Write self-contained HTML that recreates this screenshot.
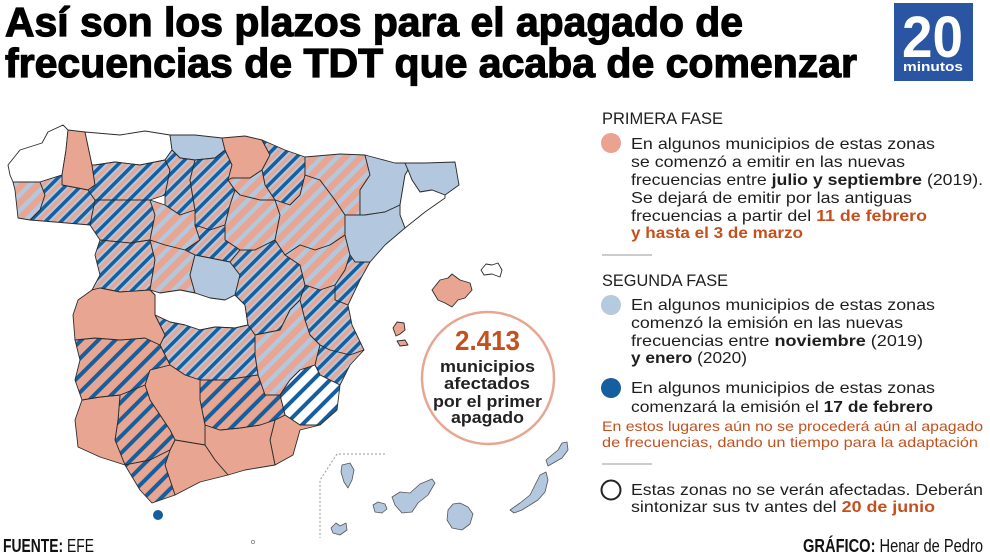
<!DOCTYPE html>
<html>
<head>
<meta charset="utf-8">
<style>
html,body{margin:0;padding:0;background:#fff;}
body{width:990px;height:556px;overflow:hidden;}
svg{display:block;}
.t{font-family:"Liberation Sans",sans-serif;}
</style>
</head>
<body>
<svg width="990" height="556" viewBox="0 0 990 556" xmlns="http://www.w3.org/2000/svg">
<defs>
  <pattern id="pT" patternUnits="userSpaceOnUse" width="11" height="11" patternTransform="rotate(45)">
    <rect x="0" y="0" width="11" height="11" fill="#e8a692"/>
    <rect x="0" y="0" width="3.6" height="11" fill="#165f9e"/>
    <rect x="3.6" y="0" width="2" height="11" fill="#b3c7de"/>
    <rect x="9" y="0" width="2" height="11" fill="#b3c7de"/>
  </pattern>
  <pattern id="pSL" patternUnits="userSpaceOnUse" width="11" height="11" patternTransform="rotate(45)">
    <rect x="0" y="0" width="11" height="11" fill="#e8a692"/>
    <rect x="6.5" y="0" width="4.5" height="11" fill="#b3c7de"/>
  </pattern>
  <pattern id="pSD" patternUnits="userSpaceOnUse" width="12" height="12" patternTransform="rotate(45)">
    <rect x="0" y="0" width="12" height="12" fill="#e8a692"/>
    <rect x="8" y="0" width="4" height="12" fill="#165f9e"/>
  </pattern>
  <pattern id="pWD" patternUnits="userSpaceOnUse" width="12" height="12" patternTransform="rotate(45)">
    <rect x="0" y="0" width="12" height="12" fill="#ffffff"/>
    <rect x="8" y="0" width="4" height="12" fill="#165f9e"/>
  </pattern>
</defs>

<!-- Title -->
<text class="t" x="5" y="36" font-size="41" font-weight="bold" fill="#000" stroke="#000" stroke-width="1.2" textLength="738" lengthAdjust="spacingAndGlyphs">Así son los plazos para el apagado de</text>
<text class="t" x="5" y="77" font-size="41" font-weight="bold" fill="#000" stroke="#000" stroke-width="1.2" textLength="852" lengthAdjust="spacingAndGlyphs">frecuencias de TDT que acaba de comenzar</text>

<!-- Logo -->
<rect x="894" y="3" width="79" height="78" fill="#2a55a2"/>
<text class="t" x="902" y="57" font-size="58" font-weight="bold" fill="#fff" textLength="61" lengthAdjust="spacingAndGlyphs">20</text>
<text class="t" x="903" y="71" font-size="13" font-weight="bold" fill="#fff" textLength="60" lengthAdjust="spacingAndGlyphs">minutos</text>

<!-- Map -->
<g stroke="#2b2b2b" stroke-width="0.9" stroke-linejoin="round">
  <polygon fill="#ffffff" points="8,165 20,150 42,143 48,132 63,125 68,130 66,150 62,175 40,182 13,182 10,175"/>
  <polygon fill="#e8a692" points="68,130 85,132 92,165 95,185 88,190 62,185 62,175 66,150"/>
  <polygon fill="url(#pSL)" points="13,182 40,182 45,195 40,210 30,220 18,218 15,190"/>
  <polygon fill="url(#pT)" points="40,182 62,175 62,185 88,190 95,200 90,225 55,222 30,220 40,210 45,195"/>
  <polygon fill="#ffffff" points="85,132 120,135 145,131 170,135 172,150 165,160 140,165 115,162 95,165 92,165"/>
  <polygon fill="#b3c7de" points="170,135 195,135 222,138 225,150 215,158 195,160 180,158 172,150"/>
  <polygon fill="url(#pT)" points="92,165 95,165 115,162 140,165 165,160 170,170 165,195 150,200 120,200 95,200 88,190 95,185"/>
  <polygon fill="url(#pT)" points="165,160 172,150 180,158 195,160 190,180 195,210 180,215 165,205 165,195 170,170"/>
  <polygon fill="url(#pT)" points="195,160 215,158 225,150 232,165 228,180 235,190 230,205 225,225 210,230 195,225 195,210 190,180"/>
  <polygon fill="#e8a692" points="222,138 245,136 262,140 270,155 262,170 250,178 232,178 228,180 232,165 225,150"/>
  <polygon fill="url(#pT)" points="262,140 285,150 305,157 305,175 300,195 290,205 275,200 265,185 262,170 270,155"/>
  <polygon fill="url(#pSL)" points="232,178 250,178 262,170 265,185 275,200 260,200 240,195 235,190 228,180"/>
  <polygon fill="url(#pT)" points="95,200 120,200 150,200 155,215 150,240 130,243 100,240 90,225"/>
  <polygon fill="url(#pSL)" points="150,200 165,205 180,215 195,210 195,225 200,240 185,250 165,245 150,240 155,215"/>
  <polygon fill="url(#pSL)" points="230,205 235,190 240,195 260,200 275,200 280,215 275,240 255,250 240,250 225,240 225,225"/>
  <polygon fill="url(#pT)" points="195,225 210,230 225,225 225,240 240,250 230,262 210,258 195,255 185,250 200,240"/>
  <polygon fill="url(#pT)" points="100,240 130,243 150,240 155,260 150,290 120,292 100,288 92,290 100,275 95,255"/>
  <polygon fill="url(#pSL)" points="150,240 165,245 185,250 195,255 190,275 195,293 180,290 160,293 150,290 155,260"/>
  <polygon fill="#b3c7de" points="195,255 210,258 230,262 240,275 235,295 225,300 210,298 195,293 190,275"/>
  <polygon fill="#ffffff" points="150,290 160,293 180,290 195,293 210,298 225,300 235,295 245,305 248,325 235,328 215,327 200,330 185,325 170,322 155,315 155,295"/>
  <polygon fill="url(#pT)" points="240,250 255,250 275,240 285,255 300,265 305,285 300,300 290,310 280,330 255,335 248,325 245,305 235,295 240,275 230,262"/>
  <polygon fill="url(#pSL)" points="290,205 300,195 305,175 320,180 335,200 345,215 345,235 330,245 315,250 300,245 285,255 275,240 280,215 275,200"/>
  <polygon fill="url(#pSL)" points="305,157 340,154 365,155 370,175 360,190 360,215 345,215 335,200 320,180 305,175"/>
  <polygon fill="url(#pSL)" points="285,255 300,245 315,250 330,245 345,235 350,255 345,270 335,285 320,290 305,285 300,265"/>
  <polygon fill="#b3c7de" points="365,155 395,163 405,163 408,170 405,175 400,205 385,212 365,215 360,215 360,190 370,175"/>
  <polygon fill="#b3c7de" points="405,163 425,163 455,162 459,185 445,195 432,190 420,192 412,180 408,170"/>
  <polygon fill="#ffffff" points="408,170 412,180 420,192 432,190 445,195 445,198 425,212 405,228 400,215 400,205 405,175"/>
  <polygon fill="#b3c7de" points="365,215 385,212 400,205 400,215 405,228 385,245 370,262 355,262 350,255 345,235 345,215 360,215"/>
  <polygon fill="url(#pT)" points="350,255 355,262 370,262 360,280 348,305 335,300 335,285 345,270"/>
  <polygon fill="url(#pT)" points="335,285 335,300 348,305 352,325 364,350 350,355 330,350 320,345 310,335 305,320 300,300 305,285 320,290"/>
  <polygon fill="url(#pSL)" points="255,335 280,330 290,310 300,300 305,320 310,335 320,345 315,365 300,370 290,380 280,395 265,395 258,375 255,355"/>
  <polygon fill="url(#pT)" points="320,345 330,350 350,355 364,350 350,365 340,385 330,380 320,375 315,365"/>
  <polygon fill="url(#pWD)" points="300,370 315,365 320,375 330,380 340,385 337,410 320,425 300,425 285,415 280,395 290,380"/>
  <polygon fill="#e8a692" points="275,420 285,415 300,425 320,425 300,430 293,455 275,465 270,440"/>
  <polygon fill="#e8a692" points="205,425 220,430 240,428 260,425 275,420 270,440 275,465 245,470 228,475 215,460 205,445"/>
  <polygon fill="url(#pT)" points="155,315 170,322 185,325 200,330 215,327 235,328 248,325 255,335 255,355 258,375 225,380 200,380 185,375 170,365 160,345 165,335"/>
  <polygon fill="url(#pSD)" points="200,380 225,380 258,375 265,395 280,395 285,415 275,420 260,425 240,428 220,430 205,425 200,400"/>
  <polygon fill="#e8a692" points="170,365 185,375 200,380 200,400 205,425 205,445 175,440 170,430 160,415 150,400 145,385 150,370"/>
  <polygon fill="#e8a692" points="175,440 205,445 215,460 228,475 200,482 175,495 170,480 165,465 170,450"/>
  <polygon fill="url(#pSD)" points="120,395 145,385 150,400 160,415 170,430 175,440 170,450 150,460 125,465 115,440 118,420"/>
  <polygon fill="url(#pSD)" points="125,465 150,460 170,450 165,465 170,480 175,495 152,503 140,490"/>
  <polygon fill="#e8a692" points="78,447 75,420 82,400 100,397 120,395 118,420 115,440 125,465 100,457"/>
  <polygon fill="url(#pSD)" points="75,380 80,360 75,340 95,338 120,340 145,338 160,345 170,365 150,370 145,385 120,395 100,397 82,400"/>
  <polygon fill="#e8a692" points="73,315 78,300 92,290 100,288 120,292 150,290 155,295 155,315 165,335 160,345 145,338 120,340 95,338 75,340"/>
  <!-- Balearics -->
  <polygon fill="#e8a692" points="432,290 440,280 448,278 452,274 460,280 470,283 472,290 465,298 458,300 452,307 445,303 438,300"/>
  <polygon fill="#ffffff" points="481,270 486,264 492,265 498,263 502,270 500,277 492,274 484,275"/>
  <polygon fill="#e8a692" points="393,328 397,322 404,323 405,330 400,334 396,336"/>
  <polygon fill="#e8a692" points="397,341 405,340 408,345 400,346"/>
  <!-- Canaries -->
  <g stroke="#555" stroke-width="0.8" fill="#b3c7de">
    <polygon points="342,465 350,463 354,470 352,480 348,488 344,482 341,472"/>
    <polygon points="331,528 336,523 340,526 346,523 347,530 340,535 333,533"/>
    <polygon points="373,505 378,502 385,504 387,509 382,513 375,512"/>
    <polygon points="392,497 400,492 410,493 420,484 432,479 435,483 428,495 418,503 412,512 402,513 395,505"/>
    <polygon points="448,510 453,504 460,503 468,507 473,514 470,524 462,530 452,528 447,520"/>
    <polygon points="510,510 520,503 530,495 535,485 540,475 546,472 548,480 545,492 538,500 530,505 522,510 514,513"/>
    <polygon points="546,460 552,455 558,450 562,443 567,442 568,450 562,458 555,462 548,466"/>
  </g>
</g>
<polyline points="385,454 337,454 320,480 320,538" fill="none" stroke="#999" stroke-width="1" stroke-dasharray="2,2"/>
<circle cx="158" cy="515" r="5" fill="#165f9e"/>
<circle cx="253" cy="542" r="1.6" fill="none" stroke="#888" stroke-width="0.8"/>

<!-- Big circle -->
<circle cx="488" cy="378" r="66" fill="#fff" stroke="#e8a692" stroke-width="2.5"/>
<text class="t" x="455" y="350" font-size="28" font-weight="bold" fill="#c5501e" textLength="65" lengthAdjust="spacingAndGlyphs">2.413</text>
<g class="t" font-size="17" font-weight="bold" fill="#222">
  <text x="440" y="372" textLength="95" lengthAdjust="spacingAndGlyphs">municipios</text>
  <text x="444" y="389" textLength="86" lengthAdjust="spacingAndGlyphs">afectados</text>
  <text x="433" y="407" textLength="109" lengthAdjust="spacingAndGlyphs">por el primer</text>
  <text x="451" y="423" textLength="73" lengthAdjust="spacingAndGlyphs">apagado</text>
</g>

<!-- Legend -->
<g class="t" fill="#1e1e1e">
  <text x="602" y="124" font-size="17" textLength="121" lengthAdjust="spacingAndGlyphs">PRIMERA FASE</text>
  <circle cx="611" cy="143" r="10" fill="#e9a390"/>
  <g font-size="16">
    <text x="631" y="149" textLength="304" lengthAdjust="spacingAndGlyphs">En algunos municipios de estas zonas</text>
    <text x="631" y="167" textLength="274" lengthAdjust="spacingAndGlyphs">se comenzó a emitir en las nuevas</text>
    <text x="631" y="185" textLength="352" lengthAdjust="spacingAndGlyphs">frecuencias entre <tspan font-weight="bold">julio y septiembre</tspan> (2019).</text>
    <text x="631" y="203" textLength="281" lengthAdjust="spacingAndGlyphs">Se dejará de emitir por las antiguas</text>
    <text x="631" y="221" textLength="296" lengthAdjust="spacingAndGlyphs">frecuencias a partir del <tspan font-weight="bold" fill="#c5501e">11 de febrero</tspan></text>
    <text x="631" y="238" textLength="172" lengthAdjust="spacingAndGlyphs" font-weight="bold" fill="#c5501e">y hasta el 3 de marzo</text>
  </g>
  <line x1="602" y1="255" x2="652" y2="255" stroke="#9a9a9a" stroke-width="1"/>

  <text x="602" y="286" font-size="17" textLength="126" lengthAdjust="spacingAndGlyphs">SEGUNDA FASE</text>
  <circle cx="611" cy="305" r="10" fill="#b5c9df"/>
  <g font-size="16">
    <text x="631" y="310" textLength="304" lengthAdjust="spacingAndGlyphs">En algunos municipios de estas zonas</text>
    <text x="631" y="328" textLength="272" lengthAdjust="spacingAndGlyphs">comenzó la emisión en las nuevas</text>
    <text x="631" y="346" textLength="292" lengthAdjust="spacingAndGlyphs">frecuencias entre <tspan font-weight="bold">noviembre</tspan> (2019)</text>
    <text x="631" y="363" textLength="116" lengthAdjust="spacingAndGlyphs"><tspan font-weight="bold">y enero</tspan> (2020)</text>
  </g>
  <circle cx="611" cy="388" r="10" fill="#165f9e"/>
  <g font-size="16">
    <text x="631" y="393" textLength="304" lengthAdjust="spacingAndGlyphs">En algunos municipios de estas zonas</text>
    <text x="631" y="412" textLength="302" lengthAdjust="spacingAndGlyphs">comenzará la emisión el <tspan font-weight="bold">17 de febrero</tspan></text>
  </g>
  <g font-size="14" fill="#c5501e">
    <text x="602" y="431" textLength="381" lengthAdjust="spacingAndGlyphs">En estos lugares aún no se procederá aún al apagado</text>
    <text x="602" y="447" textLength="376" lengthAdjust="spacingAndGlyphs">de frecuencias, dando un tiempo para la adaptación</text>
  </g>
  <line x1="602" y1="464" x2="652" y2="464" stroke="#9a9a9a" stroke-width="1"/>
  <circle cx="611" cy="490" r="9.5" fill="none" stroke="#222" stroke-width="2"/>
  <g font-size="16">
    <text x="631" y="495" textLength="352" lengthAdjust="spacingAndGlyphs">Estas zonas no se verán afectadas. Deberán</text>
    <text x="631" y="512" textLength="304" lengthAdjust="spacingAndGlyphs">sintonizar sus tv antes del <tspan font-weight="bold" fill="#c5501e">20 de junio</tspan></text>
  </g>

  <text x="3" y="552" font-size="18" fill="#111" textLength="91" lengthAdjust="spacingAndGlyphs"><tspan font-weight="bold">FUENTE:</tspan> EFE</text>
  <text x="803" y="552" font-size="18" fill="#111" textLength="180" lengthAdjust="spacingAndGlyphs"><tspan font-weight="bold">GRÁFICO:</tspan> Henar de Pedro</text>
</g>
</svg>
</body>
</html>
